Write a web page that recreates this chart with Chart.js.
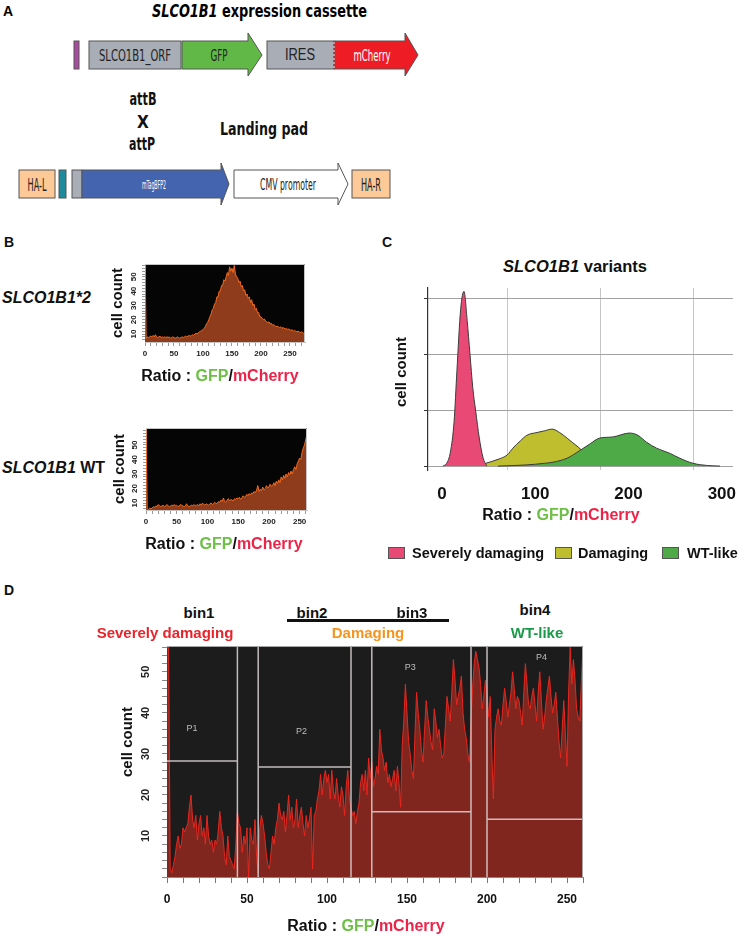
<!DOCTYPE html>
<html>
<head>
<meta charset="utf-8">
<script src="https://cdn.jsdelivr.net/npm/chart.js@4.4.1/dist/chart.umd.min.js"></script>
<style>
  html, body { margin: 0; padding: 0; background: #fff; }
  body { width: 744px; height: 937px; position: relative; overflow: hidden;
         font-family: "Liberation Sans", Arial, sans-serif; font-weight: bold; color: #111; }
  canvas { position: absolute; }
  .t { position: absolute; white-space: nowrap; line-height: 1; }
  .c { transform: translate(-50%, -50%); }
  .v { transform: translateY(-50%); }
  .rot { transform: translate(-50%, -50%) rotate(-90deg); }
  .g { color: #6dbf45; }
  .r { color: #ec2449; }
  .sq { position: absolute; width: 17px; height: 12px; border: 1px solid #555; box-sizing: border-box; }
</style>
</head>
<body>

<!-- A: constructs (diagram, not data) -->
<svg style="position:absolute;left:0;top:0" width="744" height="215"
     font-family="'Liberation Sans Narrow','DejaVu Sans Condensed','Liberation Sans',sans-serif">
  <text x="3" y="16" font-size="14" font-weight="bold" font-family="'Liberation Sans',Arial">A</text>
  <text x="152" y="17" font-size="18" font-weight="bold" textLength="215" lengthAdjust="spacingAndGlyphs"><tspan font-style="italic">SLCO1B1</tspan> expression cassette</text>

  <g stroke="#555" stroke-width="1">
    <rect x="74" y="41" width="5" height="28" fill="#a94ba0"/>
    <rect x="89" y="41" width="92" height="28" fill="#a8adb6"/>
    <polygon points="182,41 248,41 248,33 262,55 248,76 248,69 182,69" fill="#62b846"/>
    <rect x="267" y="41" width="67" height="28" fill="#a8adb6"/>
    <polygon points="334,41 405,41 405,33 418,55 405,76 405,69 334,69" fill="#ee1d25"/>
  </g>
  <line x1="334" y1="42" x2="334" y2="68" stroke="#eee" stroke-dasharray="2,2"/>
  <g text-anchor="middle" font-size="15" font-weight="normal" fill="#222">
    <text x="135" y="61" textLength="72" lengthAdjust="spacingAndGlyphs">SLCO1B1_ORF</text>
    <text x="219" y="61" textLength="17" lengthAdjust="spacingAndGlyphs">GFP</text>
    <text x="300" y="60" font-size="16" font-family="'Liberation Sans',Arial" textLength="30" lengthAdjust="spacingAndGlyphs">IRES</text>
    <text x="372" y="61" fill="#fff" textLength="37" lengthAdjust="spacingAndGlyphs">mCherry</text>
  </g>

  <g text-anchor="middle" font-size="17" font-weight="bold" fill="#111">
    <text x="143" y="105" textLength="27" lengthAdjust="spacingAndGlyphs">attB</text>
    <text x="143" y="128">X</text>
    <text x="142" y="150" textLength="26" lengthAdjust="spacingAndGlyphs">attP</text>
    <text x="264" y="135" font-size="18" textLength="88" lengthAdjust="spacingAndGlyphs">Landing pad</text>
  </g>

  <g stroke="#555" stroke-width="1">
    <rect x="19" y="170" width="36" height="28" fill="#fdc997"/>
    <rect x="59" y="170" width="7" height="28" fill="#1f8a9c"/>
    <rect x="72" y="170" width="10" height="28" fill="#a8adb6"/>
    <polygon points="82,170 221,170 221,163 229,184 221,205 221,198 82,198" fill="#4564b0"/>
    <polygon points="234,170 338,170 338,163 348,184 338,205 338,198 234,198" fill="#fff"/>
    <rect x="352" y="170" width="38" height="28" fill="#fdc997"/>
  </g>
  <g text-anchor="middle" font-size="16" font-weight="normal" fill="#222">
    <text x="37" y="191" font-size="17" textLength="19" lengthAdjust="spacingAndGlyphs">HA-L</text>
    <text x="154" y="189" font-size="13" fill="#fff" textLength="24" lengthAdjust="spacingAndGlyphs">mTagBFP2</text>
    <text x="288" y="190" textLength="56" lengthAdjust="spacingAndGlyphs">CMV promoter</text>
    <text x="371" y="191" font-size="17" textLength="20" lengthAdjust="spacingAndGlyphs">HA-R</text>
  </g>
</svg>

<canvas id="bStar2"></canvas>
<canvas id="bWt"></canvas>
<canvas id="cVariants"></canvas>
<canvas id="dBins"></canvas>

<!-- B labels -->
<div class="t c" style="left:9px;top:242px;font-size:14px">B</div>
<div class="t v" style="left:2px;top:298px;font-size:16px;font-style:italic">SLCO1B1*2</div>
<div class="t rot" style="left:116px;top:303px;font-size:15px">cell count</div>
<div class="t c" style="left:220px;top:376px;font-size:16px">Ratio : <span class="g">GFP</span>/<span class="r">mCherry</span></div>
<div class="t v" style="left:2px;top:468px;font-size:16px"><i>SLCO1B1</i> WT</div>
<div class="t rot" style="left:118px;top:469px;font-size:15px">cell count</div>
<div class="t c" style="left:224px;top:544px;font-size:16px">Ratio : <span class="g">GFP</span>/<span class="r">mCherry</span></div>

<!-- C labels -->
<div class="t c" style="left:387px;top:242px;font-size:14px">C</div>
<div class="t c" style="left:575px;top:266px;font-size:16.5px"><i>SLCO1B1</i> variants</div>
<div class="t rot" style="left:400px;top:372px;font-size:15px">cell count</div>
<div class="t c" style="left:561px;top:515px;font-size:16px">Ratio : <span class="g">GFP</span>/<span class="r">mCherry</span></div>
<div class="sq" style="left:388px;top:547px;background:#e84a75"></div>
<div class="t v" style="left:412px;top:553px;font-size:14.5px">Severely damaging</div>
<div class="sq" style="left:555px;top:547px;background:#bfbe2e"></div>
<div class="t v" style="left:578px;top:553px;font-size:14.5px">Damaging</div>
<div class="sq" style="left:662px;top:547px;background:#4daa47"></div>
<div class="t v" style="left:687px;top:553px;font-size:14.5px">WT-like</div>

<!-- D labels -->
<div class="t c" style="left:9px;top:590px;font-size:14px">D</div>
<div class="t c" style="left:199px;top:612px;font-size:15px">bin1</div>
<div class="t c" style="left:312px;top:612px;font-size:15px">bin2</div>
<div class="t c" style="left:412px;top:612px;font-size:15px">bin3</div>
<div class="t c" style="left:535px;top:609px;font-size:15px">bin4</div>
<div style="position:absolute;left:287px;top:619px;width:162px;height:2.5px;background:#111"></div>
<div class="t c" style="left:165px;top:632px;font-size:15px;color:#e8232a">Severely damaging</div>
<div class="t c" style="left:368px;top:632px;font-size:15px;color:#f7941d">Damaging</div>
<div class="t c" style="left:537px;top:632px;font-size:15px;color:#1a9a48">WT-like</div>
<div class="t rot" style="left:126px;top:742px;font-size:15px">cell count</div>
<div class="t c" style="left:366px;top:926px;font-size:16px">Ratio : <span class="g">GFP</span>/<span class="r">mCherry</span></div>

<script>
// ── B: flow histograms (2-unit bins starting at 0) ──
var bBinWidth = 2;
var bStar2Counts = [
  60, 7, 8, 7.5, 8, 8.5, 8, 9, 8, 9.5,
  8, 7.5, 8, 8.5, 7.5, 8, 7.5, 8, 7.5, 8,
  7.5, 8, 7, 7.5, 8, 7.5, 7, 7.5, 8, 7.5,
  7, 7.5, 8, 7.5, 8, 8.5, 8, 8.5, 9, 8.5,
  9, 9.5, 9, 10, 10.5, 10, 11, 11.5, 12, 12.5,
  13, 14, 15, 17, 18, 20, 22, 24, 27, 28,
  31, 32, 36, 36, 40, 40, 44, 44, 48, 47,
  50, 53, 51, 57, 54, 56, 53, 58, 52, 50,
  49, 46, 47, 43, 44, 40, 41, 37, 38, 35,
  36, 32, 34, 30, 31, 27, 28, 25, 25, 22,
  22, 21, 20, 20.5, 19, 18.5, 18, 18.5, 17, 17.5,
  16, 16.5, 16, 15, 15.5, 15, 14.5, 15, 14, 14.5,
  14, 13.5, 14, 13, 13.5, 13, 12.5, 13, 12, 12.5,
  12, 11.5, 12, 11.5, 11, 11.5, 11, 10.5, 11
];
var bWtCounts = [
  62, 6, 5.5, 6.5, 6, 6.5, 7.5, 7, 8, 7.5,
  9, 8, 7.5, 8, 8.5, 7.5, 8, 9, 8, 7.5,
  8, 8.5, 8, 9, 8, 8.5, 7.5, 8, 9, 8.5,
  8, 7.5, 8, 9.5, 8, 7.5, 8, 8.5, 8, 9,
  8, 8.5, 9, 8, 9.5, 8.5, 10, 9, 8.5, 9.5,
  9, 8.5, 9.5, 10, 9, 9.5, 10.5, 9.5, 10, 11,
  10.5, 12, 11, 13.5, 11, 10.5, 12, 13, 11.5, 12.5,
  12, 11.5, 13, 12.5, 13.5, 13, 14, 12.5, 13.5, 15,
  14, 14.5, 16, 15, 16.5, 15.5, 17, 16.5, 18, 17,
  19, 22, 18, 19.5, 18.5, 21, 19, 20, 22, 20.5,
  21, 23, 21.5, 22, 24, 22, 25, 23.5, 26, 24,
  28, 26, 29, 27, 30, 28, 31, 29.5, 32, 30,
  33, 35, 33, 37, 39, 41, 40, 45, 48, 50,
  54, 57
];
var bYLabels = [10, 20, 30, 40, 50];

// ── C: smoothed variant distributions ──
var cSevereRatio = [1, 5, 9, 13, 16, 20, 23.6, 27, 30, 33, 36, 40, 44, 48];
var cSevereCount = [0, 0.05, 0.25, 0.8, 1.7, 2.8, 3.12, 2.6, 2.0, 1.4, 1.0, 0.5, 0.15, 0];
var cDamagingRatio = [47, 60, 70, 76, 84, 91, 102, 110, 118, 126, 137, 150, 160, 170];
var cDamagingCount = [0.05, 0.12, 0.2, 0.32, 0.45, 0.55, 0.6, 0.63, 0.66, 0.6, 0.46, 0.28, 0.1, 0];
var cWtRatio = [60, 90, 110, 119, 134, 148, 159, 169, 183, 201, 210, 219, 230, 244, 255, 269, 285, 298];
var cWtCount = [0, 0.02, 0.05, 0.07, 0.14, 0.28, 0.4, 0.5, 0.52, 0.59, 0.55, 0.43, 0.32, 0.23, 0.14, 0.05, 0.01, 0];
var cXTicks = [0, 100, 200, 300];
var cGridX = [70, 170, 270];
var cYTicks = [0, 1, 2, 3];

// ── D: sorting histogram (1-unit bins from 0) and gates ──
var dBinWidth = 1;
var dCounts = [
  56, 56, 2, 1, 3, 5, 8, 10, 7, 8,
  12, 11, 12, 13, 17, 20, 14, 12, 15, 9,
  13, 15, 10, 12, 8, 15, 10, 8, 9, 6,
  9, 8, 11, 16, 12, 10, 5, 3, 10, 5,
  4, 3, 2, 8, 16, 13, 12, 6, 10, 8,
  12, 0, 12, 9, 8, 14, 5, 1, 12, 15,
  13, 10, 6, 3, 2, 6, 10, 8, 12, 14,
  18, 15, 14, 16, 11, 15, 20, 14, 17, 12,
  14, 19, 12, 15, 17, 13, 10, 15, 12, 14,
  17, 2, 15, 16, 19, 21, 25, 20, 24, 26,
  23, 25, 19, 26, 21, 19, 24, 20, 17, 22,
  20, 15, 22, 26, 19, 17, 15, 16, 13, 16,
  18, 23, 25, 21, 26, 20, 29, 24, 28, 22,
  24, 27, 25, 36, 31, 29, 26, 28, 23, 25,
  22, 24, 26, 21, 27, 23, 17, 32, 38, 47,
  40, 33, 30, 26, 24, 35, 45, 40, 36, 31,
  28, 36, 43, 39, 36, 33, 31, 41, 38, 34,
  36, 32, 29, 30, 37, 44, 41, 38, 45, 53,
  48, 42, 44, 46, 49, 40, 36, 34, 30, 28,
  38, 46, 52, 55, 53, 51, 47, 41, 44, 48,
  45, 39, 44, 30, 19, 36, 39, 41, 38, 37,
  42, 46, 43, 39, 42, 45, 50, 46, 41, 44,
  43, 40, 37, 45, 52, 47, 42, 41, 44, 46,
  42, 38, 45, 50, 43, 36, 39, 43, 46, 49,
  44, 40, 42, 45, 39, 33, 29, 36, 43, 35,
  27, 45, 56, 47, 53, 48, 41, 39, 38, 48,
  56
];
var dGateLines = [44, 57, 115, 128, 190, 200];
var dGateFrom = [0, 57, 128, 200];
var dGateTo = [44, 115, 190, 260];
var dGateLevel = [28.3, 26.8, 15.9, 14.1];
var dGateNames = ['P1', 'P2', 'P3', 'P4'];
var dNameX = [15.6, 84, 152, 234];
var dNameY = [36.3, 35.4, 51, 53.4];
var dYLabels = [10, 20, 30, 40, 50];

Chart.defaults.font.family = '"Liberation Sans", Arial, sans-serif';
Chart.defaults.font.weight = 'bold';

var PAD = { left: 12, right: 12, top: 12, bottom: 12 };

// size the canvas so the chart area lands on the given box
function placeCanvas(id, area, yW, xH) {
  var cv = document.getElementById(id);
  var left = area.l - yW - PAD.left, top = area.t - PAD.top;
  var w = area.r - left + PAD.right, h = area.b + xH + PAD.bottom - top;
  cv.style.left = left + 'px'; cv.style.top = top + 'px';
  cv.width = w; cv.height = h;
  cv.style.width = w + 'px'; cv.style.height = h + 'px';
  return cv;
}

function binPoints(counts, width) {
  return counts.map(function(c, i) { return { x: i * width, y: c }; });
}
function xyPoints(xs, ys) {
  return xs.map(function(x, i) { return { x: x, y: ys[i] }; });
}

// ── plugins ──
var plotBg = {
  id: 'plotBg',
  beforeDraw: function(chart, args, o) {
    var a = chart.chartArea, ctx = chart.ctx;
    ctx.save();
    ctx.fillStyle = o.color;
    ctx.fillRect(a.left, a.top, a.right - a.left, a.bottom - a.top);
    ctx.restore();
  },
  afterDraw: function(chart, args, o) {
    if (!o.frame) return;
    var a = chart.chartArea, ctx = chart.ctx;
    ctx.save();
    ctx.strokeStyle = o.frame; ctx.lineWidth = 1;
    ctx.beginPath();
    ctx.moveTo(a.left, a.top + 0.5);
    ctx.lineTo(a.right - 0.5, a.top + 0.5);
    ctx.lineTo(a.right - 0.5, a.bottom);
    ctx.stroke();
    ctx.restore();
  }
};

var rotYLabels = {
  id: 'rotYLabels',
  afterDraw: function(chart, args, o) {
    if (!o.values) return;
    var ctx = chart.ctx, y = chart.scales.y;
    ctx.save();
    ctx.font = o.font; ctx.fillStyle = o.color || '#222';
    ctx.textAlign = 'center'; ctx.textBaseline = 'middle';
    o.values.forEach(function(v) {
      ctx.save();
      ctx.translate(chart.chartArea.left - o.offset, y.getPixelForValue(v));
      ctx.rotate(-Math.PI / 2);
      ctx.fillText(String(v), 0, 0);
      ctx.restore();
    });
    ctx.restore();
  }
};

var gatesPlugin = {
  id: 'gates',
  afterDatasetsDraw: function(chart) {
    var x = chart.scales.x, y = chart.scales.y, a = chart.chartArea, ctx = chart.ctx;
    ctx.save();
    ctx.strokeStyle = 'rgba(214,204,204,0.9)'; ctx.lineWidth = 1.5;
    ctx.beginPath();
    dGateLines.forEach(function(v) {
      var px = x.getPixelForValue(v);
      ctx.moveTo(px, a.top); ctx.lineTo(px, a.bottom);
    });
    dGateFrom.forEach(function(v, i) {
      var py = y.getPixelForValue(dGateLevel[i]);
      ctx.moveTo(x.getPixelForValue(v), py); ctx.lineTo(x.getPixelForValue(dGateTo[i]), py);
    });
    ctx.stroke();
    ctx.fillStyle = '#bdbdbd';
    ctx.font = '9px "Liberation Sans", Arial';
    ctx.textAlign = 'center'; ctx.textBaseline = 'middle';
    dGateNames.forEach(function(n, i) {
      ctx.fillText(n, x.getPixelForValue(dNameX[i]), y.getPixelForValue(dNameY[i]));
    });
    ctx.restore();
  }
};

// ── B histogram ──
function histB(id, counts, xMax, yMin, yMax, area) {
  var yW = 20, xH = 22;
  var cv = placeCanvas(id, area, yW, xH);
  return new Chart(cv, {
    type: 'line',
    data: { datasets: [{
      data: binPoints(counts, bBinWidth),
      borderColor: '#f26a1f', borderWidth: 1, backgroundColor: '#8e3c1b',
      fill: 'start', pointRadius: 0, tension: 0
    }] },
    options: {
      responsive: false, animation: false, events: [],
      layout: { padding: PAD },
      plugins: {
        legend: { display: false }, tooltip: { enabled: false },
        plotBg: { color: '#050505', frame: '#c4c4c4' },
        rotYLabels: { values: bYLabels, font: 'bold 8px "Liberation Sans", Arial', offset: 11 }
      },
      scales: {
        x: {
          type: 'linear', min: 0, max: xMax,
          afterFit: function(s) { s.height = xH; },
          ticks: { stepSize: 10, includeBounds: false, autoSkip: false, maxRotation: 0, padding: 3,
                   color: '#222', font: { size: 8, weight: 'bold' },
                   callback: function(v) { return v % 50 === 0 ? v : ''; } },
          grid: { drawOnChartArea: false, tickLength: 4, color: '#9a9a9a' },
          border: { color: '#c4c4c4' }
        },
        y: {
          type: 'linear', min: yMin, max: yMax,
          afterFit: function(s) { s.width = yW; },
          ticks: { display: false, stepSize: 2, includeBounds: false, autoSkip: false },
          grid: { drawOnChartArea: false, tickLength: 3, color: '#9a9a9a' },
          border: { color: '#c4c4c4' }
        }
      }
    },
    plugins: [plotBg, rotYLabels]
  });
}

histB('bStar2', bStar2Counts, 276, 4.4, 59, { l: 145, t: 264, r: 305, b: 342 });
histB('bWt', bWtCounts, 262, 5.2, 61.7, { l: 146, t: 428, r: 307, b: 510 });

// ── C variants ──
(function() {
  var yW = 10, xH = 30;
  var cv = placeCanvas('cVariants', { l: 428, t: 288, r: 733, b: 470 }, yW, xH);
  function ds(label, xs, ys, color, order) {
    return { label: label, data: xyPoints(xs, ys), backgroundColor: color, borderColor: '#3b3b3b',
             borderWidth: 1, fill: 'origin', pointRadius: 0, cubicInterpolationMode: 'monotone', order: order };
  }
  new Chart(cv, {
    type: 'line',
    data: { datasets: [
      ds('Severely damaging', cSevereRatio, cSevereCount, '#e84a75', 0),
      ds('Damaging', cDamagingRatio, cDamagingCount, '#bfbe2e', 2),
      ds('WT-like', cWtRatio, cWtCount, '#4daa47', 1)
    ] },
    options: {
      responsive: false, animation: false, events: [],
      layout: { padding: PAD },
      plugins: { legend: { display: false }, tooltip: { enabled: false } },
      scales: {
        x: {
          type: 'linear', min: -15, max: 312,
          afterBuildTicks: function(s) { s.ticks = cXTicks.map(function(v) { return { value: v }; }); },
          afterFit: function(s) { s.height = xH; },
          ticks: { color: '#111', font: { size: 17, weight: 'bold' }, padding: 6, maxRotation: 0 },
          grid: { display: false }, border: { display: false }
        },
        xg: {
          type: 'linear', position: 'bottom', min: -15, max: 312,
          afterBuildTicks: function(s) { s.ticks = cGridX.map(function(v) { return { value: v }; }); },
          afterFit: function(s) { s.height = 0; },
          ticks: { display: false },
          grid: { color: '#c6c6c6', drawTicks: false }, border: { display: false }
        },
        y: {
          type: 'linear', min: -0.07, max: 3.18,
          afterBuildTicks: function(s) { s.ticks = cYTicks.map(function(v) { return { value: v }; }); },
          afterFit: function(s) { s.width = yW; },
          ticks: { display: false },
          grid: { color: '#a2a2a2', tickLength: 4, tickColor: '#333' },
          border: { color: '#333', width: 1.2 }
        }
      }
    }
  });
})();

// ── D bins ──
(function() {
  var yW = 35, xH = 30;
  var cv = placeCanvas('dBins', { l: 167, t: 646, r: 583, b: 877 }, yW, xH);
  new Chart(cv, {
    type: 'line',
    data: { datasets: [{
      data: binPoints(dCounts, dBinWidth),
      borderColor: '#e6261e', borderWidth: 1, backgroundColor: '#80261f',
      fill: 'start', pointRadius: 0, tension: 0
    }] },
    options: {
      responsive: false, animation: false, events: [],
      layout: { padding: PAD },
      plugins: {
        legend: { display: false }, tooltip: { enabled: false },
        plotBg: { color: '#1c1c1c', frame: '#a6a6a6' },
        rotYLabels: { values: dYLabels, font: 'bold 11px "Liberation Sans", Arial', offset: 21 }
      },
      scales: {
        x: {
          type: 'linear', min: 0, max: 260,
          afterFit: function(s) { s.height = xH; },
          ticks: { stepSize: 10, includeBounds: false, autoSkip: false, maxRotation: 0, padding: 9,
                   color: '#111', font: { size: 12, weight: 'bold' },
                   callback: function(v) { return v % 50 === 0 ? v : ''; } },
          grid: { drawOnChartArea: false, tickLength: 6, color: '#777' },
          border: { color: '#888' }
        },
        y: {
          type: 'linear', min: 0, max: 56.3,
          afterFit: function(s) { s.width = yW; },
          ticks: { display: false, stepSize: 2, includeBounds: false, autoSkip: false },
          grid: { drawOnChartArea: false, tickLength: 5, color: '#888' },
          border: { color: '#888' }
        }
      }
    },
    plugins: [plotBg, rotYLabels, gatesPlugin]
  });
})();
</script>
</body>
</html>
